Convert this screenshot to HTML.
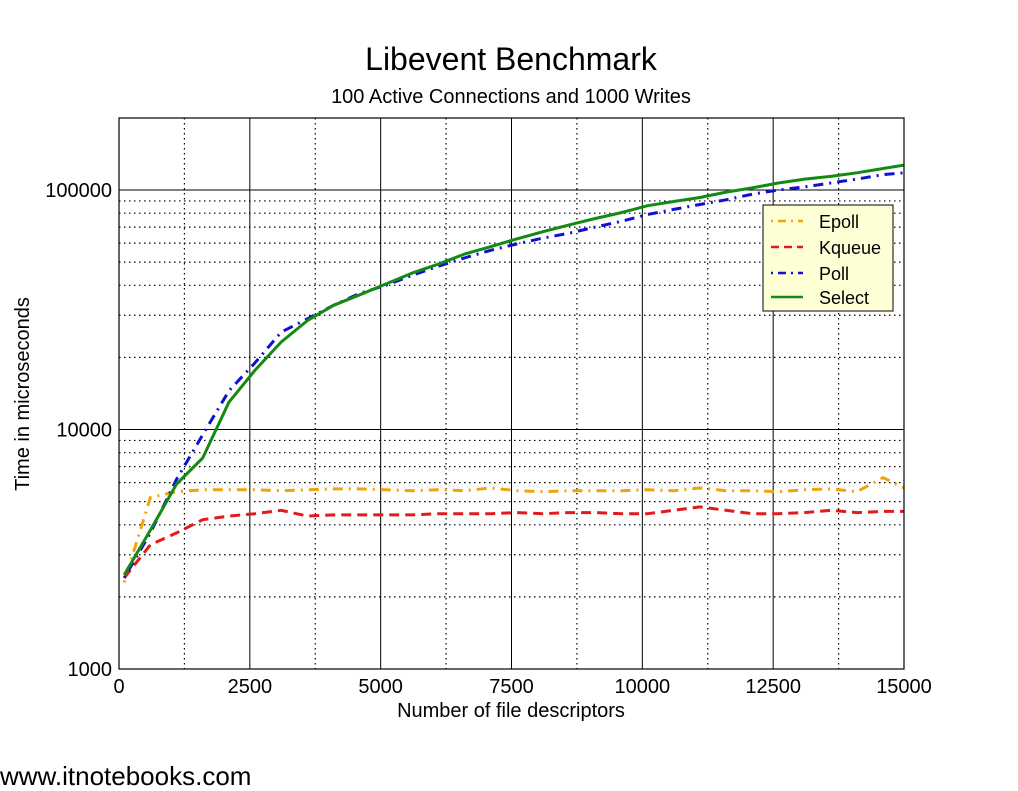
<!DOCTYPE html>
<html><head><meta charset="utf-8"><style>
body{margin:0;background:#fff;}
svg text{font-family:"Liberation Sans",sans-serif;fill:#000;}
</style></head><body>
<svg id="chart" width="1018" height="786" xmlns="http://www.w3.org/2000/svg">
<text x="511" y="70" font-size="32" text-anchor="middle">Libevent Benchmark</text>
<text x="511" y="103" font-size="20" text-anchor="middle">100 Active Connections and 1000 Writes</text>
<g id="grid"></g>
<g id="series"></g>
<rect x="119" y="118" width="785" height="551" fill="none" stroke="#000" stroke-width="1.2"/>
<g id="ticks"></g>
<text x="511" y="717" font-size="20" text-anchor="middle">Number of file descriptors</text>
<text transform="translate(29,394) rotate(-90)" font-size="20" text-anchor="middle">Time in microseconds</text>
<g>
<rect x="763" y="205" width="130" height="106" fill="#ffffd6" stroke="#000" stroke-width="1"/>
<line x1="771" y1="221" x2="803" y2="221" stroke="#f0a30a" stroke-width="2.5" stroke-dasharray="2,5,8,5"/>
<line x1="771" y1="247" x2="803" y2="247" stroke="#e31a1c" stroke-width="2.5" stroke-dasharray="8,5"/>
<line x1="771" y1="273" x2="803" y2="273" stroke="#1010d0" stroke-width="2.5" stroke-dasharray="2,5,8,5"/>
<line x1="771" y1="297" x2="803" y2="297" stroke="#138a13" stroke-width="2.5"/>
<text x="819" y="228" font-size="18">Epoll</text>
<text x="819" y="254" font-size="18">Kqueue</text>
<text x="819" y="280" font-size="18">Poll</text>
<text x="819" y="304" font-size="18">Select</text>
</g>
<text x="0" y="785" font-size="26" fill="#333">www.itnotebooks.com</text>
</svg>
<script>
const xValues=[100,600,1100,1600,2100,2600,3100,3600,4100,4600,5100,5600,6100,6600,7100,7600,8100,8600,9100,9600,10100,10600,11100,11600,12100,12600,13100,13600,14100,14600,15000];
const epoll=[2300,5200,5500,5600,5600,5600,5550,5600,5650,5650,5600,5550,5600,5550,5700,5550,5500,5550,5550,5550,5600,5550,5700,5550,5550,5500,5600,5650,5500,6300,5700];
const kqueue=[2400,3300,3700,4200,4350,4450,4600,4350,4400,4400,4400,4400,4450,4450,4450,4500,4450,4500,4500,4450,4450,4600,4750,4600,4450,4450,4500,4600,4500,4550,4550];
const poll=[2400,3700,6200,9500,14500,19000,25500,29000,33000,37000,40000,44000,48000,52000,56000,59500,63000,66000,70000,74000,79000,83000,87000,91000,96000,100000,103000,107000,111000,116000,118000];
const select=[2470,3800,5920,7600,13000,17700,23200,28500,33000,36500,40500,45000,49000,54000,58000,62500,67000,71500,76000,80500,86000,89500,93000,98000,102000,107000,111000,114000,118000,123000,127000];
const xTicks=[0,2500,5000,7500,10000,12500,15000];
const yTicks=[1000,10000,100000];
const NS="http://www.w3.org/2000/svg";
const X0=119,X1=904,Y0=669;
function xs(v){return X0+(v/15000)*(X1-X0);}
function ys(v){return Y0-(Math.log10(v)-3)*239.5;}
function mk(tag,attrs,parent){const e=document.createElementNS(NS,tag);for(const k in attrs)e.setAttribute(k,attrs[k]);parent.appendChild(e);return e;}
const grid=document.getElementById('grid'),ticks=document.getElementById('ticks'),series=document.getElementById('series');
for(let v=1250;v<15000;v+=1250){
  const major=(v%2500===0);
  const l=mk('line',{x1:xs(v),x2:xs(v),y1:118,y2:669,stroke:'#000','stroke-width':major?1:1.2,'stroke-dasharray':major?'none':'1.5,3.5'},grid);
  
  
}
for(let d=1000;d<=100000;d*=10){
  for(let m=1;m<=9;m++){
    const v=d*m; const y=ys(v); if(y<118||y>=669)continue;
    const l=mk('line',{x1:119,x2:904,y1:y,y2:y,stroke:'#000','stroke-width':m===1?1:1.2,'stroke-dasharray':m===1?'none':'1.5,3.5'},grid);
    
    
  }
}
xTicks.forEach(v=>{
  const t=mk('text',{x:xs(v),y:693,'font-size':20,'text-anchor':'middle'},ticks);t.textContent=v;
  
  
});
yTicks.forEach(v=>{
  const t=mk('text',{x:112,y:ys(v)+7,'font-size':20,'text-anchor':'end'},ticks);t.textContent=v;
  
  
});
function line(data,color,dash,name){
  const d=data.map((v,i)=>(i?'L':'M')+xs(xValues[i]).toFixed(1)+','+ys(v).toFixed(1)).join(' ');
  const p=mk('path',{d:d,fill:'none',stroke:color,'stroke-width':3,'stroke-dasharray':dash,'stroke-linejoin':'round'},series);
  
  
}
line(epoll,'#f0a30a','2,6,10,6','epoll-line');
line(kqueue,'#e31a1c','10,6','kqueue-line');
line(poll,'#1010d0','2,6,10,6','poll-line');
line(select,'#138a13','none','select-line');
</script>
</body></html>
